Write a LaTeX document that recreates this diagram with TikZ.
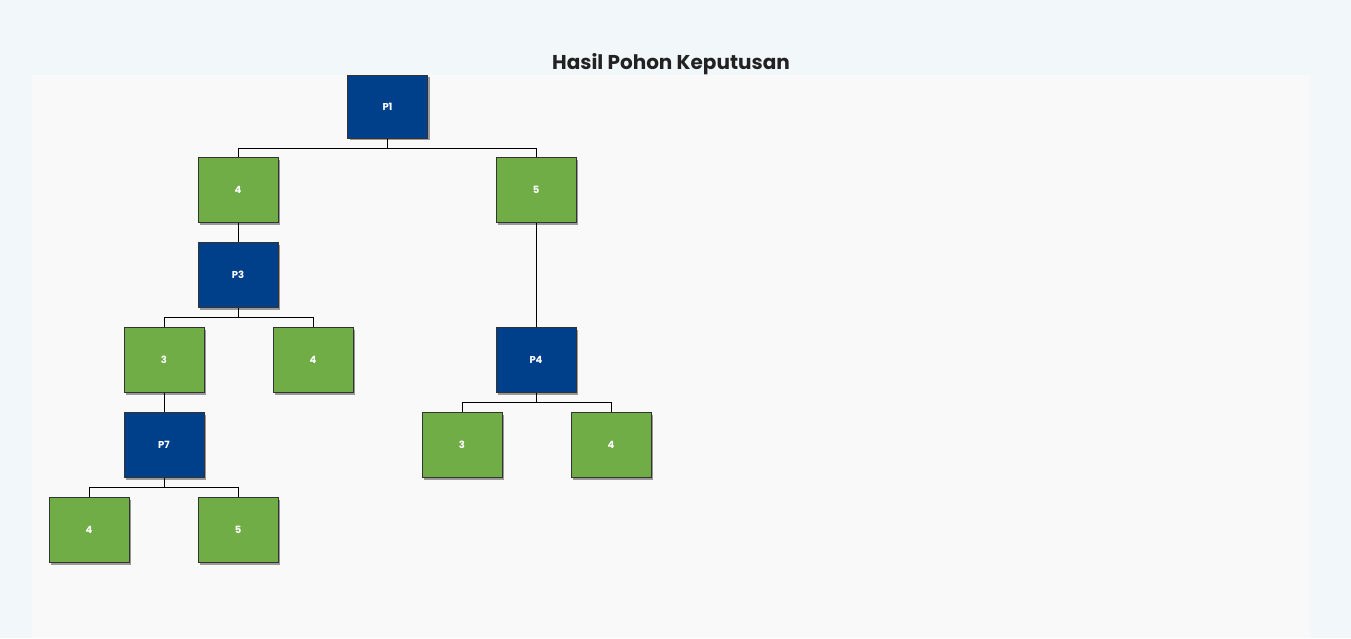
\documentclass[tikz,border=0pt]{standalone}
\usepackage{fontspec}
\setmainfont{Poppins}
\usetikzlibrary{shadows}
\definecolor{outerbg}{HTML}{F2F7FA}
\definecolor{panelbg}{HTML}{F9F9F9}
\definecolor{pblue}{HTML}{003F8A}
\definecolor{pgreen}{HTML}{70AD47}
\definecolor{pborder}{HTML}{333333}
\definecolor{ptitle}{HTML}{222222}
\tikzset{
  box/.style={rectangle, minimum width=80pt, minimum height=65pt, inner sep=0pt,
    draw=pborder, line width=1pt, text=white,
    font=\fontsize{10}{11}\selectfont\bfseries,
    drop shadow={shadow xshift=2pt, shadow yshift=-2pt, fill=black!40, opacity=1}},
  attr/.style={box, fill=pblue},
  leaf/.style={box, fill=pgreen},
  conn/.style={draw=black, line width=1pt}
}
\begin{document}
\begin{tikzpicture}[x=1pt,y=-1pt]
\useasboundingbox (0,0) rectangle (1351,638);
\fill[outerbg] (0,0) rectangle (1351,638);
\fill[panelbg] (32,75) rectangle (1310,638);
\node[font=\fontsize{20}{24}\selectfont\bfseries, text=ptitle] (title) at (671,64.5) {Hasil Pohon Keputusan};
% nodes
\node[attr, minimum height=63pt] (P1) at (387.5,106.5) {P1};
\node[leaf] (a4) at (238,190) {4};
\node[leaf] (a5) at (536,190) {5};
\node[attr] (P3) at (238,275) {P3};
\node[leaf] (b3) at (164,360) {3};
\node[leaf] (b4) at (313,360) {4};
\node[attr] (P4) at (536,360) {P4};
\node[attr] (P7) at (164,445) {P7};
\node[leaf] (c3) at (462,445) {3};
\node[leaf] (c4) at (611,445) {4};
\node[leaf] (d4) at (89,530) {4};
\node[leaf] (d5) at (238,530) {5};
% connectors
\draw[conn] (P1.south) -- ++(0,9.5) -| (a4.north);
\draw[conn] (P1.south) -- ++(0,9.5) -| (a5.north);
\draw[conn] (a4.south) -- (P3.north);
\draw[conn] (a5.south) -- (P4.north);
\draw[conn] (P3.south) -- ++(0,9.5) -| (b3.north);
\draw[conn] (P3.south) -- ++(0,9.5) -| (b4.north);
\draw[conn] (b3.south) -- (P7.north);
\draw[conn] (P4.south) -- ++(0,9.5) -| (c3.north);
\draw[conn] (P4.south) -- ++(0,9.5) -| (c4.north);
\draw[conn] (P7.south) -- ++(0,9.5) -| (d4.north);
\draw[conn] (P7.south) -- ++(0,9.5) -| (d5.north);
\end{tikzpicture}
\end{document}
